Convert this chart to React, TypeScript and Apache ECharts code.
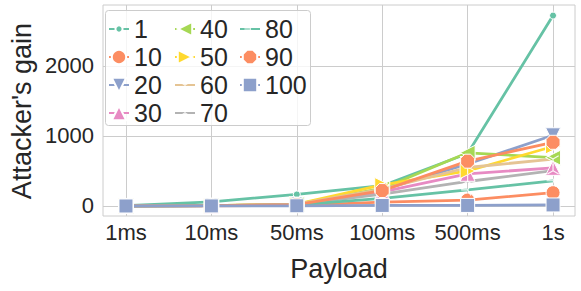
import React, { useEffect, useRef } from 'react';
import * as echarts from 'echarts';

const categories = ['1ms', '10ms', '50ms', '100ms', '500ms', '1s'];
const seriesNames = ['1', '10', '20', '30', '40', '50', '60', '70', '80', '90', '100'];

const s1 = [5, 60, 165, 290, 750, 2720];
const s10 = [0, 2, 8, 55, 85, 190];
const s20 = [1, 5, 20, 230, 600, 1010];
const s30 = [1, 5, 20, 200, 460, 545];
const s40 = [1, 6, 25, 250, 760, 690];
const s50 = [1, 5, 25, 300, 500, 850];
const s60 = [1, 6, 25, 240, 550, 670];
const s70 = [1, 5, 20, 170, 350, 505];
const s80 = [1, 4, 15, 110, 230, 360];
const s90 = [1, 5, 20, 220, 640, 910];
const s100 = [0, 1, 3, 8, 8, 15];

const seriesValues = [s1, s10, s20, s30, s40, s50, s60, s70, s80, s90, s100];

const yTicks = [0, 1000, 2000];
const xTicks = [0, 1, 2, 3, 4, 5];

const palette = ['#66c2a5', '#fc8d62', '#8da0cb', '#e78ac3', '#a6d854', '#ffd92f', '#e5c494', '#b3b3b3'];

function triPath(angles: number[]): string {
  const h = 0.09;
  let d = 'M-1,-1 M1,1 ';
  for (const a of angles) {
    const r = (a * Math.PI) / 180;
    const dx = Math.cos(r), dy = Math.sin(r);
    const nx = -dy * h, ny = dx * h;
    const p = (x: number, y: number) => `${x.toFixed(3)},${y.toFixed(3)}`;
    d += `M${p(nx, ny)} L${p(dx + nx, dy + ny)} L${p(dx - nx, dy - ny)} L${p(-nx, -ny)} Z `;
  }
  return 'path://' + d;
}

const octagon = 'path://M0.293,0 L0.707,0 L1,0.293 L1,0.707 L0.707,1 L0.293,1 L0,0.707 L0,0.293 Z';

const markerStyles: { symbol: string; size: number; rotate: number; lineMarker?: boolean; legendH: number }[] = [
  { symbol: 'circle', size: 7, rotate: 0, legendH: 9 },
  { symbol: 'circle', size: 14, rotate: 0, legendH: 18 },
  { symbol: 'triangle', size: 15, rotate: 180, legendH: 18 },
  { symbol: 'triangle', size: 15, rotate: 0, legendH: 18 },
  { symbol: 'triangle', size: 15, rotate: 90, legendH: 18 },
  { symbol: 'triangle', size: 15, rotate: -90, legendH: 18 },
  { symbol: triPath([90, 210, 330]), size: 13, rotate: 0, lineMarker: true, legendH: 14 },
  { symbol: triPath([270, 30, 150]), size: 13, rotate: 0, lineMarker: true, legendH: 14 },
  { symbol: triPath([180, 300, 60]), size: 13, rotate: 0, lineMarker: true, legendH: 14 },
  { symbol: octagon, size: 14, rotate: 0, legendH: 18 },
  { symbol: 'rect', size: 14, rotate: 0, legendH: 18 },
];

const textColor = '#262626';
const gridColor = '#cccccc';
const fontFamily = '"Liberation Sans", Arial, sans-serif';

export default function App() {
  const ref = useRef<HTMLDivElement>(null);

  useEffect(() => {
    if (!ref.current) return;
    const chart = echarts.init(ref.current, null, { renderer: 'svg' });

    const series = seriesNames.map((name, i) => {
      const color = palette[i % palette.length];
      const m = markerStyles[i];
      return {
        name,
        type: 'line',
        data: seriesValues[i].map((v, j) => [j, v]),
        symbol: m.symbol,
        symbolSize: m.size,
        symbolRotate: m.rotate,
        showAllSymbol: true,
        color,
        lineStyle: { color, width: 2.8 },
        itemStyle: m.lineMarker
          ? { color: '#ffffff', borderWidth: 0, opacity: 0.9 }
          : { color, borderColor: '#ffffff', borderWidth: 1 },
        z: 2,
      };
    });

    const colLeft = [108, 174, 239];
    const rowCenter = [29, 57, 85, 113];
    const legends = seriesNames.map((name, i) => {
      const col = Math.floor(i / 4);
      const row = i % 4;
      return {
        data: [name],
        orient: 'vertical',
        left: colLeft[col],
        top: rowCenter[row] - 14,
        padding: 0,
        itemWidth: 20,
        itemHeight: markerStyles[i].legendH,
        selectedMode: false,
        textStyle: { fontSize: 25, color: textColor, fontFamily, lineHeight: 28 },
        z: 5,
      };
    });

    chart.setOption({
      animation: false,
      backgroundColor: '#ffffff',
      textStyle: { fontFamily },
      grid: {
        left: 103,
        right: 6,
        top: 5,
        bottom: 75,
        show: true,
        borderColor: gridColor,
        borderWidth: 1,
        containLabel: false,
        outerBoundsMode: 'none',
      },
      xAxis: {
        type: 'value',
        min: -0.269,
        max: 5.257,
        axisLine: { show: false },
        axisTick: { show: false, customValues: xTicks },
        axisLabel: {
          customValues: xTicks,
          formatter: (v: number) => categories[Math.round(v)] ?? '',
          fontSize: 22,
          color: textColor,
          fontFamily,
          margin: 5,
        },
        splitLine: { show: true, lineStyle: { color: gridColor, width: 1 } },
      },
      yAxis: {
        type: 'value',
        min: -143,
        max: 2871,
        axisLine: { show: false },
        axisTick: { show: false, customValues: yTicks },
        axisLabel: {
          customValues: yTicks,
          formatter: (v: number) => String(Math.round(v)),
          fontSize: 22,
          color: textColor,
          fontFamily,
          margin: 9,
        },
        splitLine: { show: true, lineStyle: { color: gridColor, width: 1 } },
      },
      legend: legends,
      graphic: [
        {
          type: 'rect',
          z: 3,
          shape: { x: 105.5, y: 10.5, width: 205, height: 115, r: 3 },
          style: { fill: 'rgba(255,255,255,0.8)', stroke: gridColor, lineWidth: 1 },
        },
        {
          type: 'text',
          x: 339,
          y: 269,
          style: {
            text: 'Payload',
            font: `27px ${fontFamily}`,
            fill: textColor,
            align: 'center',
            verticalAlign: 'middle',
          },
        },
        {
          type: 'text',
          x: 22,
          y: 111,
          rotation: Math.PI / 2,
          style: {
            text: "Attacker's gain",
            font: `27px ${fontFamily}`,
            fill: textColor,
            align: 'center',
            verticalAlign: 'middle',
          },
        },
      ],
      series,
    });

    return () => chart.dispose();
  }, []);

  return (
    <div
      ref={ref}
      style={{ position: 'fixed', left: 0, top: 0, width: 581, height: 291 }}
    />
  );
}
